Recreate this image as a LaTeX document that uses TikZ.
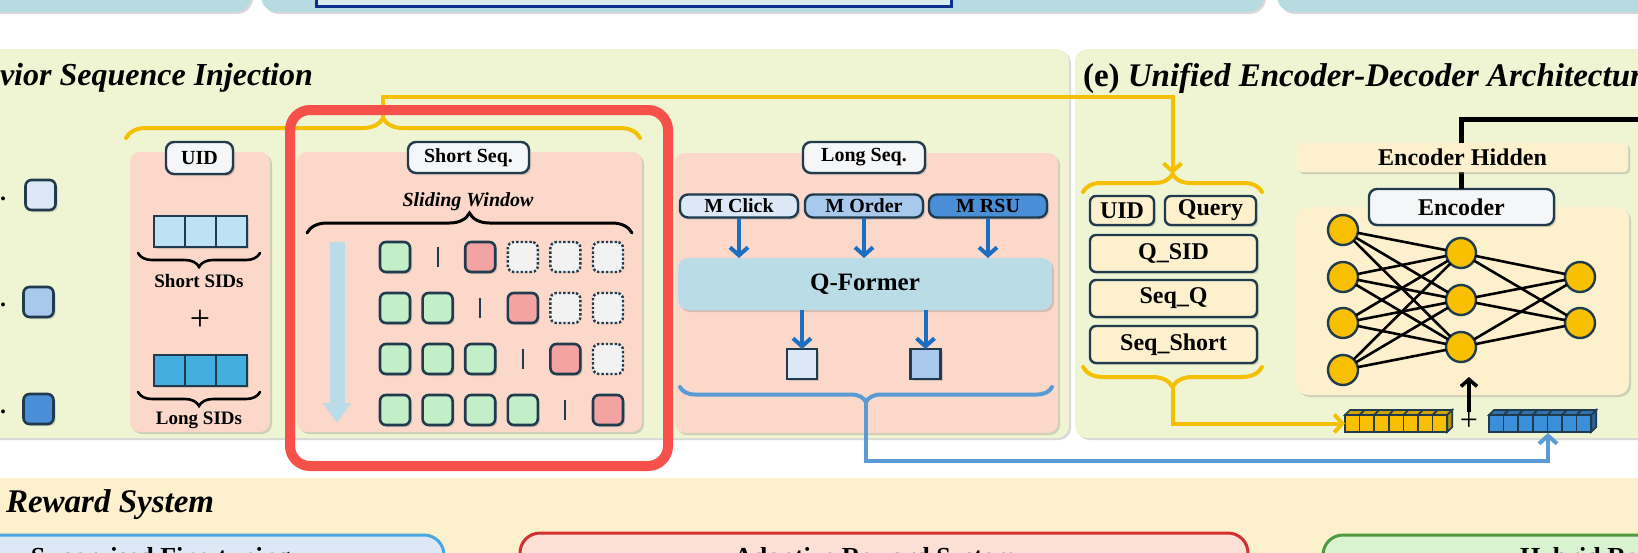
\documentclass[tikz,border=0pt]{standalone}
\usepackage{fontspec}
\setmainfont{Liberation Serif}
\usetikzlibrary{arrows.meta,decorations.pathreplacing,shadows}

\definecolor{panelgreen}{HTML}{EFF4D2}
\definecolor{panelpink}{HTML}{FBD8CA}
\definecolor{stripblue}{HTML}{B8DBE2}
\definecolor{bandcream}{HTML}{FDF0CC}
\definecolor{boxcream}{HTML}{FDF0CD}
\definecolor{qformer}{HTML}{B9DCE6}
\definecolor{edgedark}{HTML}{1F3B4D}
\definecolor{tagwhite}{HTML}{F5F6F7}
\definecolor{sidlight}{HTML}{BDE3F2}
\definecolor{sidlong}{HTML}{45AEE0}
\definecolor{mlight}{HTML}{DCE8F5}
\definecolor{mmid}{HTML}{A8C8EC}
\definecolor{mdark}{HTML}{4A8ED8}
\definecolor{cellgreen}{HTML}{C3EFC8}
\definecolor{cellred}{HTML}{F4A3A3}
\definecolor{cellempty}{HTML}{F2F2F2}
\definecolor{goldline}{HTML}{F5C000}
\definecolor{nodegold}{HTML}{F8C000}
\definecolor{arrowblue}{HTML}{1A6FC0}
\definecolor{braceblue}{HTML}{5B9BD5}
\definecolor{embblue}{HTML}{3B8ED8}
\definecolor{framered}{HTML}{F5504A}
\definecolor{navyline}{HTML}{0D2F8F}
\definecolor{sftline}{HTML}{4AA8E0}
\definecolor{rewred}{HTML}{D03030}
\definecolor{rewpink}{HTML}{FCE0D6}
\definecolor{hybgreen}{HTML}{4F9A3F}
\definecolor{hybfill}{HTML}{D9F2D0}

\begin{document}
\begin{tikzpicture}[x=0.5pt, y=-0.5pt,
		every node/.style={inner sep=0pt, outer sep=0pt},
		shad/.style={drop shadow={shadow xshift=1pt, shadow yshift=-1pt, opacity=.3}},
		panel/.style={fill=panelgreen, rounded corners=6pt, shad},
		pinkpanel/.style={fill=panelpink, rounded corners=5pt, shad},
		tag/.style={draw=edgedark, line width=1.2pt, fill=tagwhite, rounded corners=4pt, font=\bfseries\fontsize{10}{12}\selectfont, shad},
		cell/.style={draw=edgedark, line width=1.3pt, rounded corners=3pt, minimum size=15pt, shad},
		emptycell/.style={draw=edgedark, line width=1.2pt, dash pattern=on 1.2pt off 1pt, fill=cellempty, rounded corners=3pt, minimum size=15pt},
		sepbar/.style={fill=edgedark, minimum width=1pt, minimum height=10pt},
		sid/.style={draw=edgedark, line width=1.2pt, minimum size=15.5pt, shad},
		sqr/.style={draw=edgedark, line width=1.2pt, minimum size=15pt, shad},
		mtag/.style={draw=edgedark, line width=1.2pt, rounded corners=4pt, minimum width=59pt, minimum height=11.5pt, font=\bfseries\fontsize{10}{12}\selectfont, shad},
		rbox/.style={draw=edgedark, line width=1.2pt, fill=boxcream, rounded corners=3pt, font=\bfseries\fontsize{12}{14}\selectfont, shad},
		neuron/.style={circle, draw=edgedark, line width=1.2pt, fill=nodegold, minimum size=15pt},
		embcell/.style={draw=edgedark, line width=0.8pt, minimum width=7.3pt, minimum height=8.5pt},
		blueflow/.style={arrowblue, line width=2pt, -{Straight Barb[length=4pt, width=9pt]}},
		goldflow/.style={goldline, line width=2pt, line cap=round, -{Straight Barb[length=4pt, width=9pt]}},
		bracedec/.style={decorate, line cap=round, decoration={brace, amplitude=#1}},
		hdr/.style={anchor=base west, font=\bfseries\itshape\fontsize{16.5}{19}\selectfont},
		rewtext/.style={anchor=base, font=\bfseries\fontsize{13}{15}\selectfont}
	]
	\useasboundingbox (0,0) rectangle (1638,552);
	\clip (0,0) rectangle (1638,552);

	% top strip
	\path[fill=stripblue, rounded corners=8pt, shad] (-20,-20) rectangle (251,12);
	\path[fill=stripblue, rounded corners=8pt, shad] (261,-20) rectangle (1264,12);
	\path[fill=stripblue, rounded corners=8pt, shad] (1277,-20) rectangle (1660,12);
	\draw[navyline, line width=1.5pt, fill=stripblue!55!white] (316,-20) rectangle (951,6);

	% panels
	\path[panel] (-20,49) rectangle (1069,438);
	\path[panel] (1075,49) rectangle (1660,438);
	\path[fill=bandcream] (-20,478) rectangle (1660,600);

	\node[hdr, font=\bfseries\itshape\fontsize{16}{19}\selectfont] (ttl) at (0,85) {vior Sequence Injection};
	\node[hdr, font=\bfseries\fontsize{16.5}{19}\selectfont] (ttr) at (1083,86) {(e) \textit{Unified Encoder-Decoder Architecture}};
	\node[hdr] (ttb) at (6,512) {Reward System};

	% left column
	\path (40.5,195) node[cell, fill=mlight] (lsq1) {}
		(38.5,302) node[cell, fill=mmid] (lsq2) {}
		(38.5,409) node[cell, fill=mdark] (lsq3) {};
	\foreach \y [count=\i] in {200,306,413}
		\node[anchor=base east, font=\bfseries\fontsize{12}{14}\selectfont] (dot\i) at (6,\y) {.};

	% UID panel
	\path[pinkpanel] (130,152) rectangle (270,432);
	\node[tag, minimum width=33.5pt, minimum height=16pt] (uidtag) at (199.5,158) {UID};
	\foreach \i in {1,2,3}{
		\node[sid, fill=sidlight] (ss\i) at ({154+15.5*(2*\i-1)}, 231.5) {};
		\node[sid, fill=sidlong] (ls\i) at ({154+15.5*(2*\i-1)}, 370.5) {};
	}
	\draw[line width=1.3pt, bracedec=7pt] (260,253) -- (138,253);
	\node[font=\bfseries\fontsize{9.5}{11}\selectfont] (ssl) at (199,281) {Short SIDs};
	\node[font=\fontsize{18}{20}\selectfont] (plus1) at (200,320) {+};
	\draw[line width=1.3pt, bracedec=7pt] (260,392) -- (138,392);
	\node[font=\bfseries\fontsize{9.5}{11}\selectfont] (lsl) at (199,420) {Long SIDs};

	% Short Seq panel
	\path[pinkpanel] (297,152) rectangle (642,432);
	\node[tag, minimum width=60.5pt, minimum height=15.5pt] (shorttag) at (468.5,157.5) {Short Seq.};
	\node[font=\bfseries\itshape\fontsize{10}{12}\selectfont] (slide) at (468,202) {Sliding Window};
	\draw[line width=1.5pt, bracedec=10pt] (307,233) -- (632,233);
	\draw[qformer, line width=7.5pt, -{Triangle[length=10pt, width=13.5pt]}] (337,242) -- (337,423);
	\foreach \r in {1,...,4}{
		\foreach \c in {1,...,6}{
			\ifnum\c<\numexpr\r+1\relax
				\node[cell, fill=cellgreen] (w\r-\c) at ({395+42.6*(\c-1)}, {257+51*(\r-1)}) {};
			\fi
			\ifnum\c=\numexpr\r+1\relax
				\node[sepbar] (w\r-\c) at ({395+42.6*(\c-1)}, {257+51*(\r-1)}) {};
			\fi
			\ifnum\c=\numexpr\r+2\relax
				\node[cell, fill=cellred] (w\r-\c) at ({395+42.6*(\c-1)}, {257+51*(\r-1)}) {};
			\fi
			\ifnum\c>\numexpr\r+2\relax
				\node[emptycell] (w\r-\c) at ({395+42.6*(\c-1)}, {257+51*(\r-1)}) {};
			\fi
		}
	}

	% Long Seq panel
	\path[pinkpanel] (675,153) rectangle (1058,433);
	\node[tag, minimum width=61pt, minimum height=15.5pt] (longtag) at (864,157.5) {Long Seq.};
	\path (739,206) node[mtag, fill=mlight] (mclick) {M Click}
		(864,206) node[mtag, fill=mmid] (morder) {M Order}
		(988,206) node[mtag, fill=mdark] (mrsu) {M RSU};
	\node[fill=qformer, rounded corners=5pt, minimum width=187pt, minimum height=26pt, font=\bfseries\fontsize{12.5}{14}\selectfont, shad] (qf) at (865,284) {Q-Former};
	\foreach \m in {mclick,morder,mrsu}
		\draw[blueflow] (\m.south) -- (\m.south |- qf.north);
	\path (802,364) node[sqr, fill=mlight] (qo1) {}
		(925.5,364) node[sqr, fill=mmid] (qo2) {};
	\draw[blueflow] (qf.south -| qo1) -- (qo1.north);
	\draw[blueflow] (qf.south -| qo2) -- (qo2.north);
	\draw[braceblue, line width=2pt, bracedec=7.5pt] (1052,387) -- (680,387);

	% right panel: inputs
	\path (1122,210.5) node[rbox, minimum width=32pt, minimum height=14.5pt] (ruid) {UID}
		(1210.5,210.5) node[rbox, minimum width=45.5pt, minimum height=14.5pt] (rquery) {Query}
		(1173.5,253.5) node[rbox, minimum width=83.5pt, minimum height=18.5pt] (qsid) {Q\_SID}
		(1173.5,298.5) node[rbox, minimum width=83.5pt, minimum height=18.5pt] (seqq) {Seq\_Q}
		(1173.5,344.5) node[rbox, minimum width=83.5pt, minimum height=18.5pt] (seqs) {Seq\_Short};
	\draw[goldline, line width=2pt, bracedec=9pt] (1083,192) -- (1262,192);
	\draw[goldline, line width=2pt, bracedec=10pt] (1262,367) -- (1083,367);
	\coordinate (qtip) at (1172.5,174);
	\coordinate (sbot) at (1172.5,387);

	% encoder
	\coordinate (hidout) at (1660,119);
	\path[fill=boxcream, rounded corners=6pt, shad] (1296,207) rectangle (1629,395);
	\node[tag, font=\bfseries\fontsize{12}{14}\selectfont, minimum width=92.5pt, minimum height=18pt] (enctag) at (1461.5,207) {Encoder};
	\draw[black, line width=2.5pt] (enctag.north) |- (hidout);
	\node[fill=boxcream, rounded corners=2pt, minimum width=165.5pt, minimum height=14.5pt, font=\bfseries\fontsize{12}{14}\selectfont, shad] (hidden) at (1462.5,157.5) {Encoder Hidden};
	\foreach \y [count=\i] in {230,277,323,370} \node[neuron] (a\i) at (1343,\y) {};
	\foreach \y [count=\i] in {253,300,347} \node[neuron] (b\i) at (1461,\y) {};
	\foreach \y [count=\i] in {277,323} \node[neuron] (c\i) at (1580,\y) {};
	\foreach \i in {1,...,4}
		\foreach \j in {1,2,3}
			\draw[black, line width=1.3pt] (a\i) -- (b\j);
	\foreach \j in {1,2,3}
		\foreach \k in {1,2}
			\draw[black, line width=1.3pt] (b\j) -- (c\k);

	% embeddings
	\foreach \i in {1,...,7}{
		\node[embcell, fill=nodegold] (ye\i) at ({1345+14.6*(\i-0.5)}, 423.5) {};
		\node[embcell, fill=embblue] (be\i) at ({1489+14.6*(\i-0.5)}, 423.5) {};
	}
	\foreach \i in {0,...,6}{
		\draw[edgedark, line width=0.8pt, fill=nodegold!85!black] ({1345+14.6*\i},415) -- ++(5,-5) -- ++(14.6,0) -- ++(-5,5) -- cycle;
		\draw[edgedark, line width=0.8pt, fill=embblue!80!black] ({1489+14.6*\i},415) -- ++(5,-5) -- ++(14.6,0) -- ++(-5,5) -- cycle;
	}
	\draw[edgedark, line width=0.8pt, fill=nodegold!75!black] (1447.2,415) -- ++(5,-5) -- ++(0,17) -- ++(-5,5) -- cycle;
	\draw[edgedark, line width=0.8pt, fill=embblue!70!black] (1591.2,415) -- ++(5,-5) -- ++(0,17) -- ++(-5,5) -- cycle;
	\node[font=\fontsize{16}{18}\selectfont] (plus2) at (1469,421) {+};
	\coordinate (encin) at (1469,377);
	\draw[black, line width=1.8pt, -{Straight Barb[length=3.5pt, width=8pt]}] (plus2.north) -- (encin);

	% connectors
	\draw[goldline, line width=2pt, bracedec=10pt] (126,138) -- (640,138);
	\coordinate (ytop) at (383,118);
	\draw[goldflow] (ytop) -- ++(0,-21) -| (qtip);
	\draw[goldflow] (sbot) |- (ye1.west);
	\coordinate (lcusp) at (866,402);
	\coordinate (bin) at (1548,433);
	\draw[braceblue, line width=2pt, -{Straight Barb[length=4pt, width=9pt]}] (lcusp) -- ++(0,59) -| (bin);

	% reward boxes
	\draw[sftline, line width=1.5pt, fill=mlight, rounded corners=10pt] (-20,535) rectangle (444,620);
	\draw[rewred, line width=1.5pt, fill=rewpink, rounded corners=10pt] (520,533) rectangle (1248,620);
	\draw[hybgreen, line width=1.5pt, fill=hybfill, rounded corners=10pt] (1323,535) rectangle (1660,620);
	\node[rewtext, anchor=base west] (sft) at (31,565) {Supervised Fine-tuning};
	\node[rewtext] (ars) at (875,565) {Adaptive Reward System};
	\node[rewtext, anchor=base west] (hyb) at (1520,565) {Hybrid Reward};

	% highlight
	\draw[framered, line width=5pt, rounded corners=10pt] (290,110) rectangle (668,466);
\end{tikzpicture}
\end{document}
